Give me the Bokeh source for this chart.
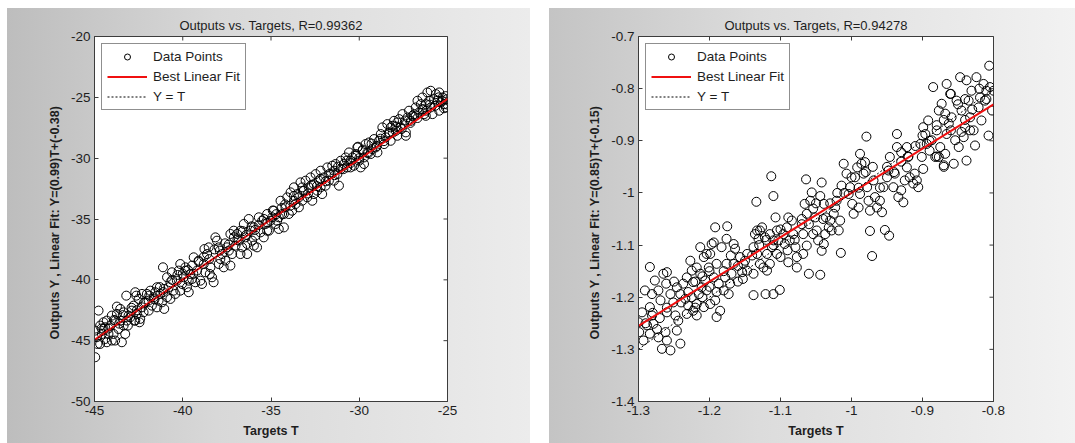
import math
from bokeh.plotting import figure
from bokeh.models import FixedTicker, Range1d, Spacer
from bokeh.layouts import row, column
from bokeh.embed import file_html
from bokeh.resources import INLINE

FONT = "Liberation Sans"

# ---------------- left panel data ----------------
left_title = "Outputs vs. Targets, R=0.99362"
left_ylabel = "Outputs Y ,  Linear Fit:  Y=(0.99)T+(-0.38)"
left_slope = 0.99
left_intercept = -0.38
left_x_ticks = [-45, -40, -35, -30, -25]
left_x_labels = ["-45", "-40", "-35", "-30", "-25"]
left_y_ticks = [-50, -45, -40, -35, -30, -25, -20]
left_y_labels = ["-50", "-45", "-40", "-35", "-30", "-25", "-20"]

left_targets = [
    -44.96, -44.87, -44.83, -44.68, -44.58, -44.49, -44.39, -44.30, -44.21, -44.11, -44.02, -43.92, -43.83, -43.83, -43.73, -43.64, -43.54, -43.45, -43.35, -43.26, -43.16, -43.07, -43.20, -43.11, -44.77, -44.96, -44.68, -44.30, -44.02, -44.49, -43.73, -43.54, -43.35,
    -42.98, -42.88, -42.79, -42.69, -42.60, -42.50, -42.41, -42.31, -42.22, -42.63, -42.69, -42.12, -42.03, -41.93, -41.84, -41.75, -41.65, -41.56, -41.46, -41.37, -41.27, -41.18, -41.08, -41.05, -41.46, -40.89, -41.93, -42.31, -42.75, -42.45,
    -41.12, -40.89, -40.80, -40.70, -40.61, -40.52, -40.42, -40.33, -40.23, -40.14, -40.04, -39.95, -39.85, -39.76, -39.66, -39.57, -39.47, -39.38, -39.29, -39.19, -39.10, -39.00, -40.70, -40.14, -39.85, -39.66, -39.47,
    -38.91, -38.81, -38.72, -38.62, -38.53, -38.43, -38.34, -38.25, -38.15, -38.06, -37.96, -37.87, -37.77, -37.68, -37.58, -37.49, -37.39, -37.30, -37.20, -37.11, -37.01, -38.77, -38.47, -37.96, -37.30,
    -36.92, -36.83, -36.73, -36.64, -36.54, -36.45, -36.35, -36.26, -36.16, -36.07, -35.97, -35.88, -35.79, -35.69, -35.60, -35.50, -35.41, -35.31, -35.22, -35.12, -35.03, -36.73, -35.97, -36.35, -35.22,
    -34.93, -34.84, -34.74, -34.65, -34.56, -34.46, -34.37, -34.27, -34.18, -34.08, -33.99, -33.89, -33.80, -33.70, -33.61, -33.51, -33.42, -33.33, -33.23, -33.14, -33.04, -34.56, -34.27, -33.70, -33.23,
    -32.95, -32.85, -32.76, -32.66, -32.57, -32.47, -32.38, -32.28, -32.19, -32.10, -32.00, -31.91, -31.81, -31.72, -31.62, -31.53, -31.43, -31.34, -31.24, -31.15, -31.05, -32.19, -31.43, -31.05, -32.57,
    -30.87, -30.77, -30.68, -30.58, -30.49, -30.39, -30.30, -30.20, -30.11, -30.01, -29.92, -29.82, -29.73, -29.64, -29.54, -29.45, -29.35, -29.26, -29.16, -29.07, -28.97, -30.07, -30.49, -29.73,
    -28.88, -28.78, -28.69, -28.59, -28.50, -28.41, -28.31, -28.22, -28.12, -28.03, -27.93, -27.84, -27.74, -27.65, -27.55, -27.46, -27.36, -27.27, -27.18, -27.08, -26.99, -27.36, -28.22, -27.84,
    -26.89, -26.80, -26.70, -26.61, -26.51, -26.42, -26.32, -26.23, -26.14, -26.04, -25.95, -25.85, -25.76, -25.66, -25.57, -25.47, -25.38, -25.28, -25.19, -25.09, -25.04, -25.95, -25.47, -26.42, -26.23,
    -44.6, -44.4, -44.2, -43.9, -43.6, -43.4, -42.9, -42.6, -42.2, -41.9, -41.6, -41.3, -41.1, -40.6, -40.3, -40.0, -39.7, -39.4, -39.1, -38.8,
    -38.5, -38.2, -37.9, -37.6, -37.4, -37.1, -36.9, -36.6, -36.4, -36.1, -35.9, -35.7, -35.4, -35.2, -34.9, -34.7, -34.4, -34.2, -33.9, -33.7,
    -33.4, -33.2, -32.9, -32.7, -32.4, -32.2, -31.9, -31.7, -31.4, -31.2, -30.9, -30.7, -30.5, -30.2, -30.0, -29.8, -29.5, -29.3, -29.0, -28.8,
    -28.6, -28.3, -28.1, -27.9, -27.6, -27.4, -27.1, -26.9, -26.7, -26.4, -26.2, -26.0, -25.7, -25.5, -25.3, -25.1, -25.0, -25.2,
]
left_outputs = [
    -44.17, -44.72, -45.27, -43.76, -44.45, -44.04, -44.86, -43.35, -44.45, -43.76, -42.94, -44.45, -43.35, -44.99, -42.80, -44.04, -43.35, -45.13, -42.67, -44.45, -43.35, -42.94, -41.30, -43.76, -42.53, -46.36, -45.27, -45.13, -44.99, -43.49, -42.20, -42.39, -43.76,
    -43.08, -42.53, -42.12, -43.35, -42.80, -41.57, -43.21, -42.26, -42.67, -41.30, -41.02, -41.85, -41.16, -41.71, -40.89, -42.12, -41.43, -41.02, -40.61, -41.71, -41.16, -41.85, -40.75, -42.39, -42.26, -41.43, -42.53, -41.16, -43.35, -43.49,
    -38.97, -39.79, -40.61, -40.20, -39.38, -40.89, -41.16, -40.07, -39.24, -38.70, -40.34, -39.79, -38.97, -40.61, -41.02, -39.52, -38.83, -38.15, -40.20, -39.24, -38.42, -40.07, -41.57, -40.89, -39.24, -40.07, -39.93,
    -40.34, -38.70, -39.38, -37.88, -37.33, -38.97, -39.79, -40.20, -36.51, -36.78, -37.33, -38.29, -37.88, -38.97, -38.42, -37.33, -37.60, -36.23, -37.88, -35.96, -37.19, -37.47, -39.52, -38.70, -38.83,
    -36.23, -36.78, -35.96, -37.33, -35.41, -36.51, -37.88, -35.00, -35.96, -36.78, -35.69, -36.37, -37.33, -34.86, -36.10, -35.14, -36.51, -35.41, -34.59, -35.96, -35.14, -37.88, -37.19, -37.05, -35.96,
    -34.86, -34.32, -35.41, -35.14, -35.82, -33.50, -34.59, -35.69, -34.04, -33.22, -34.59, -32.81, -34.32, -32.40, -33.77, -32.95, -34.04, -31.99, -33.50, -32.67, -31.85, -34.86, -34.59, -33.50, -32.40,
    -33.22, -32.40, -31.58, -33.50, -32.13, -31.31, -32.67, -31.85, -31.03, -32.95, -31.58, -32.26, -30.76, -31.85, -31.31, -30.62, -31.85, -30.48, -31.31, -32.26, -30.90, -32.40, -31.03, -30.21, -32.95,
    -30.48, -29.94, -30.76, -29.53, -30.21, -29.94, -30.62, -29.66, -29.12, -30.21, -30.76, -29.39, -29.94, -28.84, -29.53, -28.71, -29.66, -29.25, -28.43, -29.12, -29.53, -29.06, -30.76, -30.48,
    -28.57, -28.02, -27.47, -28.84, -28.29, -27.20, -27.88, -28.57, -27.34, -26.93, -27.75, -28.16, -26.79, -27.47, -26.38, -27.20, -27.88, -26.65, -26.10, -26.93, -26.52, -28.16, -27.47, -27.06,
    -26.38, -25.83, -25.28, -26.24, -25.56, -25.01, -26.38, -25.56, -24.60, -25.28, -25.83, -26.38, -25.15, -24.74, -25.28, -24.60, -25.42, -25.01, -25.56, -25.83, -25.15, -24.46, -26.10, -25.97, -26.52,
    -44.0, -43.9, -44.0, -43.3, -43.6, -42.9, -42.3, -42.5, -41.9, -41.3, -41.6, -40.6, -41.0, -40.0, -39.6, -39.5, -39.2, -39.5, -38.5, -38.1,
    -38.3, -37.5, -37.6, -37.0, -37.1, -36.5, -36.7, -36.0, -36.3, -35.6, -35.9, -35.5, -35.0, -35.3, -34.3, -34.6, -34.1, -33.8, -33.9, -33.1,
    -33.2, -32.7, -32.9, -32.2, -32.3, -31.7, -31.9, -31.3, -31.4, -30.7, -30.9, -30.2, -30.4, -29.8, -30.0, -29.3, -29.6, -28.8, -29.0, -28.4,
    -28.6, -28.0, -27.9, -27.4, -27.6, -26.9, -27.1, -26.6, -26.7, -26.0, -26.1, -25.6, -25.7, -25.0, -25.3, -24.9, -25.6, -25.9,
]

# ---------------- right panel data ----------------
right_title = "Outputs vs. Targets, R=0.94278"
right_ylabel = "Outputs Y ,  Linear Fit:  Y=(0.85)T+(-0.15)"
right_slope = 0.85
right_intercept = -0.15
right_x_ticks = [-1.3, -1.2, -1.1, -1.0, -0.9, -0.8]
right_x_labels = ["-1.3", "-1.2", "-1.1", "-1", "-0.9", "-0.8"]
right_y_ticks = [-1.4, -1.3, -1.2, -1.1, -1.0, -0.9, -0.8, -0.7]
right_y_labels = ["-1.4", "-1.3", "-1.2", "-1.1", "-1", "-0.9", "-0.8", "-0.7"]

right_targets = [
    -1.284, -1.277, -1.265, -1.260, -1.261, -1.272, -1.291, -1.281, -1.269, -1.255, -1.251, -1.246, -1.241, -1.295, -1.284, -1.281, -1.260, -1.248, -1.244, -1.300, -1.288, -1.279, -1.299, -1.293, -1.284, -1.274, -1.272, -1.267, -1.260, -1.255, -1.246, -1.241, -1.262,
    -1.237, -1.232, -1.227, -1.225, -1.223, -1.218, -1.215, -1.213, -1.211, -1.218, -1.230, -1.234, -1.223, -1.218, -1.208, -1.204, -1.206, -1.201, -1.208, -1.197, -1.194, -1.192, -1.199, -1.190, -1.194, -1.187, -1.192, -1.199, -1.190, -1.185, -1.180, -1.178, -1.176, -1.176, -1.175, -1.183, -1.213, -1.204, -1.225, -1.232,
    -1.173, -1.171, -1.169, -1.166, -1.164, -1.157, -1.152, -1.154, -1.153, -1.147, -1.138, -1.136, -1.133, -1.129, -1.126, -1.131, -1.133, -1.129, -1.124, -1.119, -1.115, -1.138, -1.138, -1.121, -1.110, -1.101, -1.134, -1.119, -1.112, -1.110, -1.115, -1.122, -1.166, -1.147,
    -1.113, -1.110, -1.107, -1.105, -1.103, -1.105, -1.100, -1.096, -1.091, -1.089, -1.084, -1.082, -1.087, -1.094, -1.079, -1.077, -1.089, -1.077, -1.068, -1.063, -1.068, -1.070, -1.063, -1.066, -1.058, -1.056, -1.064, -1.054, -1.051, -1.049, -1.047, -1.054, -1.060, -1.044, -1.042, -1.039, -1.037, -1.042, -1.044, -1.039, -1.036,
    -1.032, -1.030, -1.028, -1.025, -1.023, -1.021, -1.018, -1.016, -1.015, -1.014, -1.011, -1.007, -1.004, -1.002, -0.999, -0.997, -0.995, -0.992, -0.990, -0.988, -0.986, -0.983, -0.981, -0.979, -0.978, -0.976, -0.974, -0.974, -0.971, -0.969, -0.988,
    -0.967, -0.964, -0.960, -0.957, -0.953, -0.947, -0.955, -0.950, -0.948, -0.946, -0.941, -0.939, -0.936, -0.936, -0.934, -0.930, -0.927, -0.925, -0.922, -0.920, -0.918, -0.913, -0.911, -0.908, -0.906, -0.903, -0.901, -0.899, -0.922, -0.930,
    -0.899, -0.896, -0.894, -0.892, -0.890, -0.887, -0.885, -0.882, -0.880, -0.877, -0.875, -0.873, -0.870, -0.868, -0.866, -0.866, -0.863, -0.861, -0.859, -0.856, -0.854, -0.852, -0.849, -0.877, -0.868,
    -0.847, -0.845, -0.842, -0.840, -0.838, -0.838, -0.835, -0.833, -0.831, -0.828, -0.826, -0.824, -0.821, -0.819, -0.817, -0.814, -0.812, -0.810, -0.807, -0.806, -0.805, -0.802, -0.800, -0.833, -0.845,
    -1.29, -1.28, -1.27, -1.26, -1.25, -1.24, -1.23, -1.22, -1.22, -1.21, -1.21, -1.20, -1.20, -1.19, -1.18, -1.17, -1.16, -1.16, -1.15,
    -1.14, -1.13, -1.12, -1.11, -1.10, -1.09, -1.08, -1.07, -1.06, -1.05, -1.04, -1.03, -1.02, -1.01, -1.00, -0.99, -0.98, -0.97, -0.96,
    -0.95, -0.94, -0.93, -0.92, -0.91, -0.90, -0.89, -0.88, -0.87, -0.86, -0.85, -0.84, -0.83, -0.82, -0.81, -0.86, -0.84, -0.88, -0.87,
]
right_outputs = [
    -1.142, -1.168, -1.155, -1.152, -1.174, -1.187, -1.187, -1.194, -1.206, -1.194, -1.210, -1.181, -1.194, -1.229, -1.219, -1.235, -1.229, -1.235, -1.245, -1.248, -1.254, -1.251, -1.267, -1.283, -1.270, -1.261, -1.277, -1.299, -1.283, -1.302, -1.264, -1.289, -1.267,
    -1.174, -1.162, -1.130, -1.149, -1.171, -1.143, -1.194, -1.155, -1.181, -1.213, -1.216, -1.203, -1.226, -1.235, -1.219, -1.187, -1.168, -1.143, -1.123, -1.098, -1.095, -1.066, -1.117, -1.136, -1.162, -1.174, -1.206, -1.213, -1.238, -1.226, -1.187, -1.162, -1.136, -1.088, -1.064, -1.104, -1.104, -1.117, -1.200, -1.232,
    -1.194, -1.174, -1.155, -1.136, -1.107, -1.123, -1.136, -1.152, -1.165, -1.117, -1.104, -1.079, -1.072, -1.072, -1.066, -1.088, -1.117, -1.136, -1.143, -1.149, -1.136, -1.155, -1.196, -1.194, -1.194, -1.186, -1.017, -1.117, -1.104, -1.091, -1.079, -1.085, -1.098, -1.149,
    -0.968, -1.006, -1.047, -1.072, -1.091, -1.117, -1.123, -1.079, -1.066, -1.047, -1.053, -1.079, -1.091, -1.098, -1.104, -1.123, -1.133, -1.143, -1.117, -1.101, -1.079, -1.060, -1.040, -1.021, -1.015, -0.999, -0.974, -1.030, -1.047, -1.072, -1.091, -1.079, -1.155, -1.157, -1.111, -1.098, -1.079, -0.980, -1.006, -1.021, -1.047,
    -1.066, -1.053, -1.072, -1.040, -1.028, -1.015, -1.072, -1.053, -1.115, -0.986, -0.944, -0.963, -1.002, -0.989, -1.021, -1.040, -0.970, -0.951, -1.028, -1.002, -0.944, -0.963, -0.941, -0.892, -0.989, -1.015, -1.034, -1.073, -1.121, -0.976, -0.925,
    -1.008, -1.028, -1.015, -1.037, -1.071, -1.082, -0.989, -0.970, -0.957, -0.931, -0.989, -0.963, -0.912, -0.887, -1.008, -0.995, -1.018, -0.976, -0.951, -0.931, -0.970, -0.982, -0.963, -0.976, -0.989, -0.906, -0.931, -0.954, -0.912, -0.922,
    -0.874, -0.887, -0.906, -0.861, -0.919, -0.899, -0.797, -0.931, -0.880, -0.842, -0.912, -0.829, -0.947, -0.925, -0.791, -0.887, -0.867, -0.810, -0.855, -0.944, -0.899, -0.823, -0.912, -0.931, -0.848,
    -0.778, -0.842, -0.893, -0.874, -0.938, -0.784, -0.823, -0.855, -0.804, -0.880, -0.909, -0.778, -0.836, -0.817, -0.861, -0.791, -0.823, -0.804, -0.890, -0.756, -0.797, -0.842, -0.804, -0.880, -0.883,
    -1.25, -1.23, -1.24, -1.22, -1.17, -1.21, -1.19, -1.17, -1.22, -1.16, -1.20, -1.18, -1.15, -1.19, -1.15, -1.12, -1.14, -1.17, -1.13,
    -1.12, -1.10, -1.09, -1.10, -1.07, -1.11, -1.09, -1.05, -1.06, -1.02, -1.05, -1.02, -1.00, -1.00, -0.97, -0.99, -0.96, -0.95, -0.99,
    -0.95, -0.96, -0.94, -0.93, -0.91, -0.89, -0.90, -0.87, -0.86, -0.88, -0.83, -0.82, -0.84, -0.80, -0.82, -0.81, -0.86, -0.93, -0.95,
]

FRAME_COLOR = "#3c3c3c"
TEXT_COLOR = "#1e1e1e"


def make_panel(title, ylabel, targets, outputs, slope, intercept,
               x_ticks, x_labels, y_ticks, y_labels, width, b_left, b_right, gradient):
    n = min(len(targets), len(outputs))
    p = figure(width=width, height=435, output_backend="svg", toolbar_location=None,
               x_range=Range1d(x_ticks[0], x_ticks[-1]),
               y_range=Range1d(y_ticks[0], y_ticks[-1]),
               min_border_left=b_left, min_border_right=b_right,
               min_border_top=28, min_border_bottom=42,
               title=title)
    p.border_fill_color = None
    p.border_fill_alpha = 0
    p.background_fill_color = "white"
    p.styles = {"background": gradient}
    p.outline_line_color = FRAME_COLOR
    p.outline_line_width = 1
    p.grid.visible = False

    p.title.text_font = FONT
    p.title.text_font_size = "13px"
    p.title.text_font_style = "normal"
    p.title.text_color = TEXT_COLOR
    p.title.align = "center"
    p.title.offset = 0
    p.title.standoff = 8

    xd = dict(zip(x_ticks, x_labels))
    yd = dict(zip(y_ticks, y_labels))
    for ax, ticks, labels in ((p.xaxis[0], x_ticks, xd), (p.yaxis[0], y_ticks, yd)):
        ax.ticker = FixedTicker(ticks=ticks)
        ax.major_label_overrides = labels
        ax.major_tick_in = 4
        ax.major_tick_out = 0
        ax.minor_tick_line_color = None
        ax.axis_line_color = FRAME_COLOR
        ax.major_tick_line_color = FRAME_COLOR
        ax.major_label_text_font = FONT
        ax.major_label_text_font_size = "13.5px"
        ax.major_label_text_color = TEXT_COLOR
        ax.major_label_standoff = 4
        ax.axis_label_text_font = FONT
        ax.axis_label_text_font_size = "12.5px"
        ax.axis_label_text_font_style = "bold"
        ax.axis_label_text_color = TEXT_COLOR
        ax.axis_label_standoff = 6
    p.xaxis[0].axis_label = "Targets T"
    p.yaxis[0].axis_label = ylabel

    # inward tick marks on the top and right edges of the box
    p.scatter(x_ticks, [y_ticks[-1]] * len(x_ticks), marker="dash", angle=math.pi / 2,
              size=8, line_color=FRAME_COLOR, line_width=1)
    p.scatter([x_ticks[-1]] * len(y_ticks), y_ticks, marker="dash",
              size=8, line_color=FRAME_COLOR, line_width=1)

    p.scatter(targets[:n], outputs[:n], marker="circle", size=9, fill_color=None,
              line_color="black", line_width=1.0, legend_label="Data Points")
    fit_x = [x_ticks[0], x_ticks[-1]]
    fit_y = [slope * x + intercept for x in fit_x]
    p.line(fit_x, fit_y, line_color="#f01010", line_width=2, legend_label="Best Linear Fit")
    p.line(fit_x, fit_x, line_color="black", line_width=1, line_dash="2 2", legend_label="Y = T")

    lg = p.legend[0]
    lg.location = "top_left"
    lg.margin = 7
    lg.padding = 5
    lg.spacing = 5
    lg.border_line_color = "#202020"
    lg.border_line_width = 1
    lg.background_fill_color = "white"
    lg.background_fill_alpha = 1
    lg.label_text_font = FONT
    lg.label_text_font_size = "13.5px"
    lg.label_text_color = TEXT_COLOR
    lg.glyph_width = 40
    lg.glyph_height = 15
    lg.label_height = 15
    lg.label_standoff = 6
    return p


p1 = make_panel(left_title, left_ylabel, left_targets, left_outputs, left_slope, left_intercept,
                left_x_ticks, left_x_labels, left_y_ticks, left_y_labels, 523, 87, 83,
                "linear-gradient(90deg, #bdbdbd 0%, #d8d8d8 40%, #ececec 100%)")
p2 = make_panel(right_title, right_ylabel, right_targets, right_outputs, right_slope, right_intercept,
                right_x_ticks, right_x_labels, right_y_ticks, right_y_labels, 526, 89, 82,
                "linear-gradient(90deg, #c4c4c4 0%, #dcdcdc 40%, #f2f2f2 100%)")

layout = column(Spacer(height=8),
                row(Spacer(width=7), p1, Spacer(width=19), p2, spacing=0),
                spacing=0)

open("out.html", "w").write(file_html(layout, INLINE))
